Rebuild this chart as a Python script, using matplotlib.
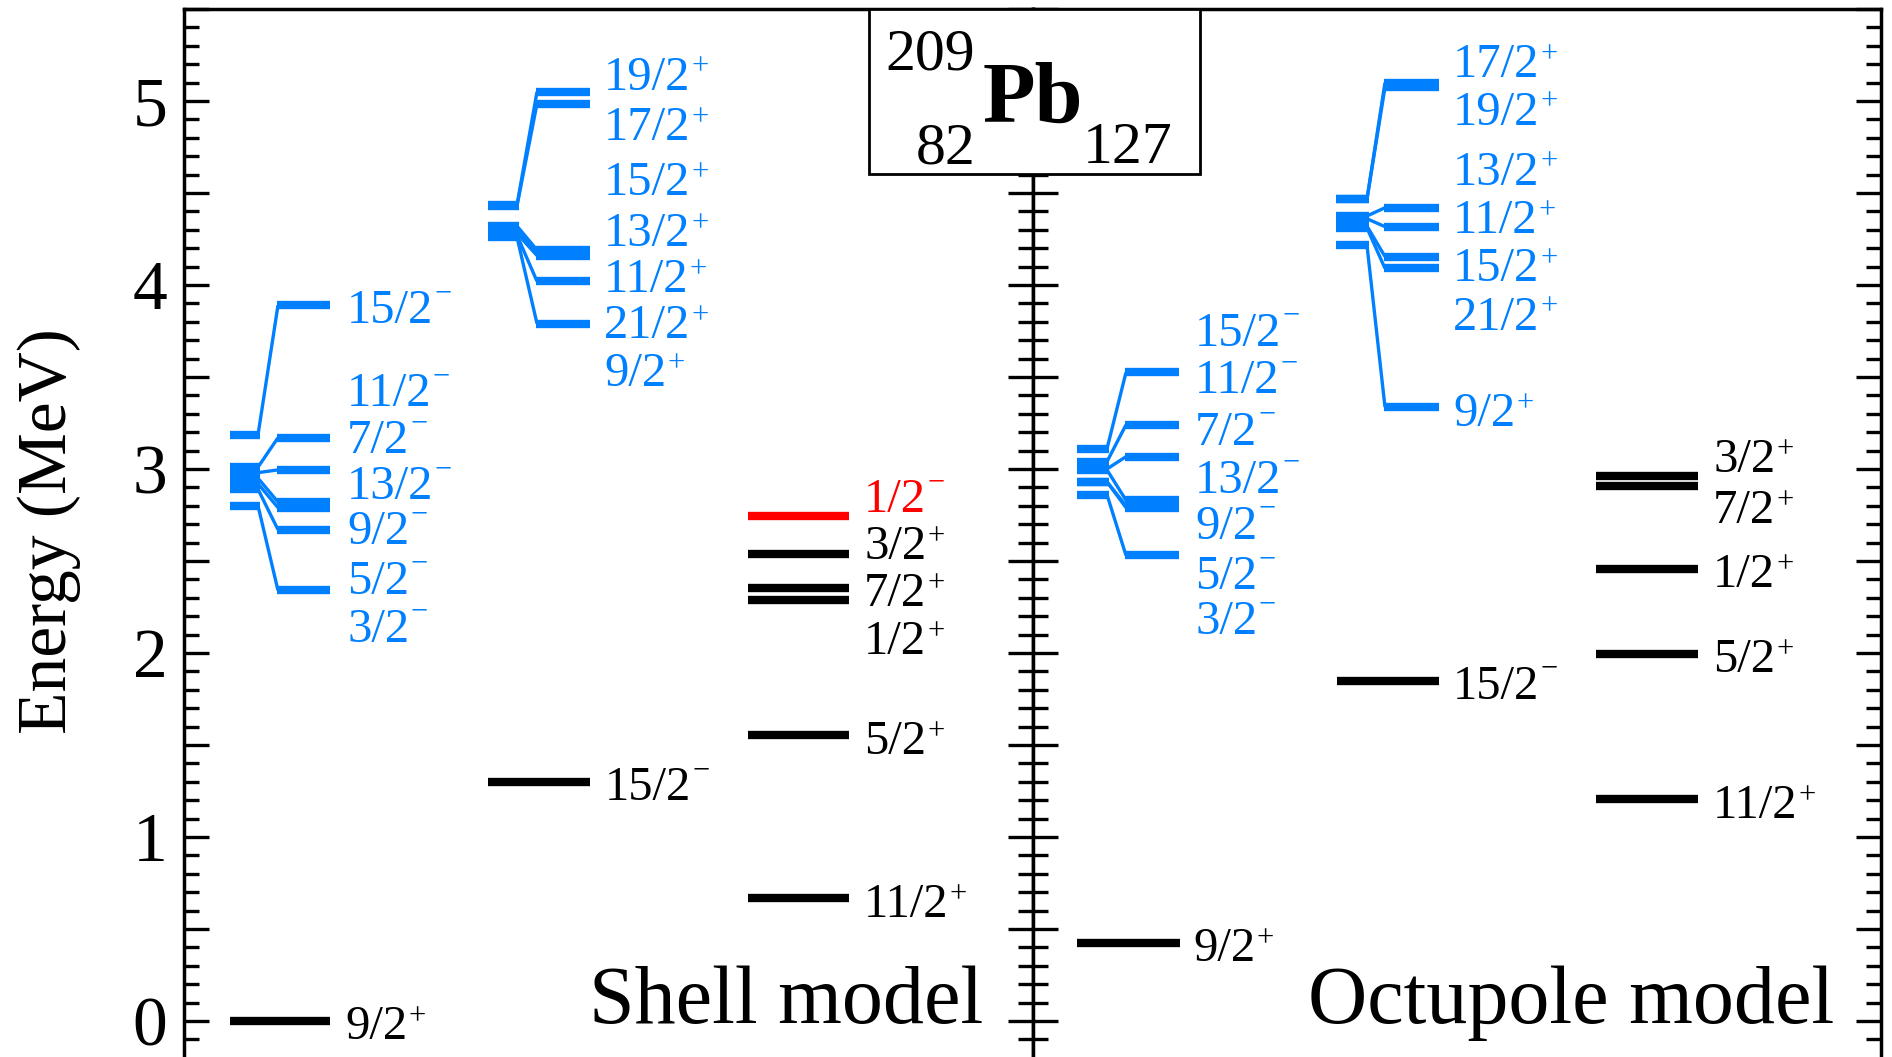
import matplotlib
matplotlib.use('Agg')
import matplotlib.pyplot as plt
from matplotlib.ticker import MultipleLocator, FuncFormatter
from matplotlib.patches import Rectangle
from matplotlib.transforms import IdentityTransform

plt.rcParams['font.family'] = ['Liberation Serif', 'DejaVu Serif']

BLUE = '#0080ff'

# ------------------------------------------------------------------ data
# Shell model panel
sm_gs_E = 0.00
sm_gs_label = '9/2+'
sm_gs_label_E = -0.011

sm_neg_left = [3.185, 3.01, 2.98, 2.95, 2.92, 2.89, 2.80]
sm_neg_right = [3.89, 3.17, 2.995, 2.82, 2.79, 2.67, 2.34]
sm_neg_labels = ['15/2-', '11/2-', '7/2-', '13/2-', '9/2-', '5/2-', '3/2-']
sm_neg_label_E = [3.88, 3.43, 3.175, 2.925, 2.68, 2.41, 2.15]

sm_pos_left = [4.435, 4.43, 4.32, 4.30, 4.28, 4.27, 4.26]
sm_pos_right = [5.05, 4.985, 4.19, 4.17, 4.16, 4.02, 3.79]
sm_pos_labels = ['19/2+', '17/2+', '15/2+', '13/2+', '11/2+', '21/2+', '9/2+']
sm_pos_label_E = [5.15, 4.875, 4.576, 4.30, 4.05, 3.80, 3.54]

sm_j15_E = 1.30
sm_j15_label = '15/2-'
sm_j15_label_E = 1.288

sm_single_E = [2.745, 2.537, 2.351, 2.289, 1.553, 0.668]
sm_single_labels = ['1/2-', '3/2+', '7/2+', '1/2+', '5/2+', '11/2+']
sm_single_label_E = [2.854, 2.60, 2.342, 2.083, 1.541, 0.653]
sm_single_colors = ['red', 'black', 'black', 'black', 'black', 'black']

# Octupole model panel
oc_gs_E = 0.426
oc_gs_label = '9/2+'
oc_gs_label_E = 0.414

oc_neg_left = [3.11, 3.04, 3.00, 2.995, 2.93, 2.93, 2.86]
oc_neg_right = [3.525, 3.24, 3.067, 2.83, 2.80, 2.79, 2.53]
oc_neg_labels = ['15/2-', '11/2-', '7/2-', '13/2-', '9/2-', '5/2-', '3/2-']
oc_neg_label_E = [3.76, 3.50, 3.22, 2.96, 2.71, 2.435, 2.19]

oc_pos_left = [4.467, 4.467, 4.375, 4.36, 4.32, 4.31, 4.215]
oc_pos_right = [5.10, 5.075, 4.42, 4.317, 4.154, 4.09, 3.336]
oc_pos_labels = ['17/2+', '19/2+', '13/2+', '11/2+', '15/2+', '21/2+', '9/2+']
oc_pos_label_E = [5.22, 4.96, 4.634, 4.37, 4.11, 3.846, 3.32]

oc_j15_E = 1.847
oc_j15_label = '15/2-'
oc_j15_label_E = 1.84

oc_single_E = [2.962, 2.910, 2.457, 1.993, 1.204]
oc_single_labels = ['3/2+', '7/2+', '1/2+', '5/2+', '11/2+']
oc_single_label_E = [3.07, 2.795, 2.447, 1.985, 1.19]
oc_single_colors = ['black'] * 5

# ------------------------------------------------------------------ layout
DPI = 100
W, H = 1892, 1057
fig = plt.figure(figsize=(W / DPI, H / DPI), dpi=DPI)

X_LEFT, X_MID, X_RIGHT = 184, 1033, 1881
Y_TOP_PX = 9
YMIN, YMAX = -0.196, 5.5
ax_h = 1 - Y_TOP_PX / H

ax1 = fig.add_axes([X_LEFT / W, 0, (X_MID - X_LEFT) / W, ax_h])
ax2 = fig.add_axes([X_MID / W, 0, (X_RIGHT - X_MID) / W, ax_h])
ax1.set_xlim(X_LEFT, X_MID)
ax2.set_xlim(X_MID, X_RIGHT)
for ax in (ax1, ax2):
    ax.set_ylim(YMIN, YMAX)

BAR_LW = 6.0
CONN_LW = 2.4
LABEL_FS = 35
SIGN_FS = 22
BASE_OFF_PT = -11.8          # baseline below the digit centre
SIGN_RAISE_PX = {'+': 15, '-': 22}

pending = []


def bar(ax, x0, x1, E, color):
    ax.plot([x0, x1], [E, E], color=color, lw=BAR_LW, solid_capstyle='butt', zorder=3)


def label(ax, x, E, s, color):
    t = ax.annotate(s[:-1], (x, E), xytext=(0, BASE_OFF_PT), textcoords='offset points',
                    ha='left', va='baseline', fontsize=LABEL_FS, color=color,
                    annotation_clip=False, zorder=4)
    pending.append((ax, t, x, E, s[-1], color))


def multiplet(ax, left, right, stub, barx, lx, labs, labE):
    for El, Er in zip(left, right):
        bar(ax, stub[0], stub[1], El, BLUE)
        bar(ax, barx[0], barx[1], Er, BLUE)
        ax.plot([stub[1] - 2, barx[0] + 1], [El, Er], color=BLUE, lw=CONN_LW,
                solid_capstyle='butt', zorder=3)
    for s, E in zip(labs, labE):
        label(ax, lx, E, s, BLUE)


# Shell model panel
bar(ax1, 230, 330, sm_gs_E, 'black')
label(ax1, 345, sm_gs_label_E, sm_gs_label, 'black')
multiplet(ax1, sm_neg_left, sm_neg_right, (230, 260), (277, 330), 347,
          sm_neg_labels, sm_neg_label_E)
multiplet(ax1, sm_pos_left, sm_pos_right, (488, 519), (536, 590), 604,
          sm_pos_labels, sm_pos_label_E)
bar(ax1, 488, 590, sm_j15_E, 'black')
label(ax1, 605, sm_j15_label_E, sm_j15_label, 'black')
for E, s, lE, c in zip(sm_single_E, sm_single_labels, sm_single_label_E, sm_single_colors):
    bar(ax1, 748, 849, E, c)
    label(ax1, 864, lE, s, c)
ax1.text(983, -0.011, 'Shell model', ha='right', va='baseline', fontsize=59)

# Octupole model panel
bar(ax2, 1077, 1180, oc_gs_E, 'black')
label(ax2, 1193, oc_gs_label_E, oc_gs_label, 'black')
multiplet(ax2, oc_neg_left, oc_neg_right, (1077, 1109), (1125, 1179), 1195,
          oc_neg_labels, oc_neg_label_E)
multiplet(ax2, oc_pos_left, oc_pos_right, (1336, 1369), (1384, 1439), 1453,
          oc_pos_labels, oc_pos_label_E)
bar(ax2, 1337, 1439, oc_j15_E, 'black')
label(ax2, 1453, oc_j15_label_E, oc_j15_label, 'black')
for E, s, lE, c in zip(oc_single_E, oc_single_labels, oc_single_label_E, oc_single_colors):
    bar(ax2, 1596, 1698, E, c)
    label(ax2, 1713, lE, s, c)
ax2.text(1834, -0.011, 'Octupole model', ha='right', va='baseline', fontsize=59)

# axes styling
int_fmt = FuncFormatter(lambda v, p: f'{int(round(v))}' if abs(v - round(v)) < 1e-6 else '')
for ax in (ax1, ax2):
    ax.set_xticks([])
    ax.yaxis.set_major_locator(MultipleLocator(0.5))
    ax.yaxis.set_minor_locator(MultipleLocator(0.1))
    ax.spines['bottom'].set_visible(False)
    for sp in ('left', 'right', 'top'):
        ax.spines[sp].set_linewidth(2.5)
    ax.tick_params(axis='y', which='major', direction='in', length=18, width=2.4)
    ax.tick_params(axis='y', which='minor', direction='in', length=10.5, width=2.4)

ax1.tick_params(axis='y', which='both', left=True, right=True, labelleft=True, labelright=False)
ax1.tick_params(axis='y', which='major', labelsize=50, pad=12)
ax1.yaxis.set_major_formatter(int_fmt)
ax2.tick_params(axis='y', which='both', left=True, right=True, labelleft=False, labelright=False)

fig.text(49 / W, 1 - 531 / H, 'Energy (MeV)', rotation=90, ha='center', va='center', fontsize=50)

# nucleus box
rect = Rectangle((869 / W, 1 - 174 / H), (1200 - 869) / W, (174 - Y_TOP_PX) / H,
                 transform=fig.transFigure, facecolor='white', edgecolor='black',
                 lw=2.0, zorder=10)
fig.add_artist(rect)
fig.text(975 / W, 1 - 70 / H, '209', ha='right', va='baseline', fontsize=43, zorder=11)
fig.text(975 / W, 1 - 163 / H, '82', ha='right', va='baseline', fontsize=43, zorder=11)
fig.text(983 / W, 1 - 122 / H, 'Pb', ha='left', va='baseline', fontsize=62,
         fontweight='bold', zorder=11)
fig.text(1083 / W, 1 - 163 / H, '127', ha='left', va='baseline', fontsize=43, zorder=11)

# superscript parity signs placed right after each label
fig.canvas.draw()
renderer = fig.canvas.get_renderer()
for ax, t, x, E, sg, c in pending:
    bb = t.get_window_extent(renderer)
    _, yd = ax.transData.transform((x, E))
    base = yd + BASE_OFF_PT * DPI / 72.0
    fig.text(bb.x1 + 1, base + SIGN_RAISE_PX[sg], '\u2212' if sg == '-' else '+',
             transform=IdentityTransform(), fontsize=SIGN_FS, color=c,
             ha='left', va='baseline', zorder=4)

fig.savefig('out.png', dpi=DPI)
